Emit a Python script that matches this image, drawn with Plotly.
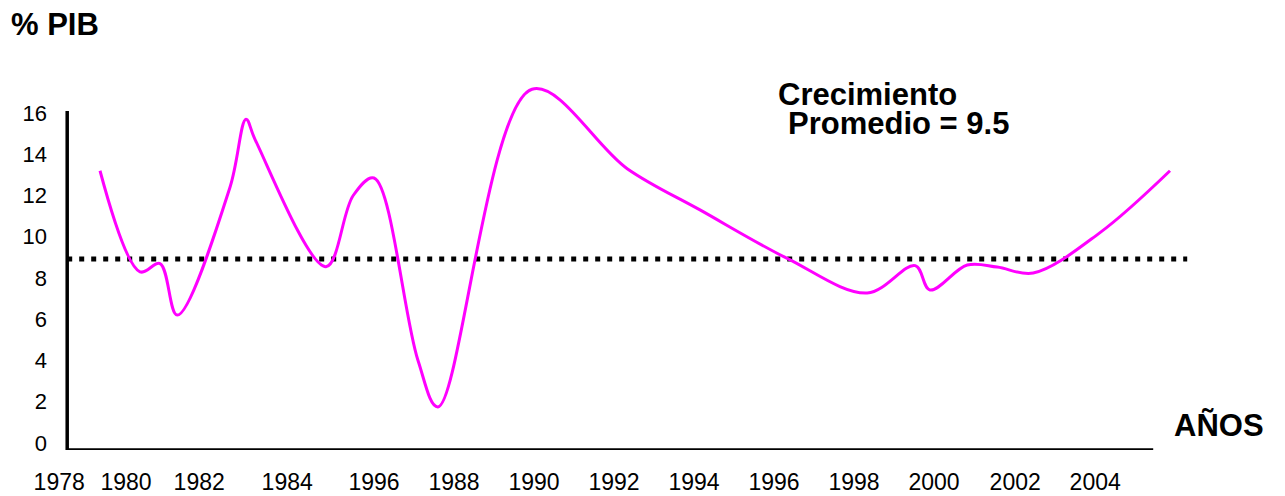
import plotly.graph_objects as go

# ---- data ----
years = [1979.35, 1980.35, 1980.85, 1981.28, 1982.6, 1983.0, 1983.23, 1985.0,
         1985.68, 1986.2, 1987.3, 1987.8, 1990.15, 1992.53, 1994.35, 1996.53,
         1998.53, 1999.73, 2000.1, 2001.03, 2001.78, 2002.68, 2004.35, 2006.1]
growth = [13.2, 8.3, 8.7, 6.2, 12.4, 15.7, 14.7, 8.55,
          12.0, 12.85, 4.0, 1.75, 17.15, 13.3, 11.3, 8.95,
          7.27, 8.6, 7.42, 8.63, 8.53, 8.24, 10.2, 13.2]
avg_value = 8.92
tick_labels = ["1978", "1980", "1982", "1984", "1996", "1988", "1990",
               "1992", "1994", "1996", "1998", "2000", "2002", "2004"]
tick_pos = [1978.33, 1980.0, 1981.83, 1984.03, 1986.2, 1988.2, 1990.2,
            1992.2, 1994.2, 1996.2, 1998.2, 2000.2, 2002.23, 2004.23]
y_ticks = [0, 2, 4, 6, 8, 10, 12, 14, 16]

# ---- layout geometry ----
W, H = 1285, 496
L, R, T, B = 20, 1200, 80, 450
X_RANGE = [1977.35, 2006.85]
Y_RANGE = [-0.34, 17.6]
FONT = "Liberation Sans, Arial, sans-serif"


def px_to_paper_x(px):
    return (px - L) / (R - L)


def px_to_paper_y(py):
    return (B - py) / (B - T)


fig = go.Figure()

# average dotted line
fig.add_trace(go.Scatter(
    x=[1978.53, 2006.53], y=[avg_value, avg_value], mode="lines",
    line=dict(color="black", width=5, dash="5px,7px"),
    hoverinfo="skip", showlegend=False))

# growth curve
fig.add_trace(go.Scatter(
    x=years, y=growth, mode="lines",
    line=dict(color="#FF00FF", width=3, shape="spline", smoothing=1.0),
    showlegend=False))

# axis lines (drawn as shapes)
fig.add_shape(type="line", xref="x", yref="y",
              x0=1978.53, x1=1978.53, y0=Y_RANGE[0], y1=16.1,
              line=dict(color="black", width=3.5))
fig.add_shape(type="line", xref="x", yref="y",
              x0=1978.53, x1=2005.68, y0=Y_RANGE[0], y1=Y_RANGE[0],
              line=dict(color="black", width=3.5))

TS = 31
annos = [
    dict(text="<b>% PIB</b>", x=px_to_paper_x(9), y=px_to_paper_y(25),
         xanchor="left", yanchor="middle", font=dict(size=TS)),
    dict(text="<b>AÑOS</b>", x=px_to_paper_x(1172), y=px_to_paper_y(425),
         xanchor="left", yanchor="middle", font=dict(size=TS)),
    dict(text="<b>Crecimiento</b>", x=px_to_paper_x(776), y=px_to_paper_y(94),
         xanchor="left", yanchor="middle", font=dict(size=TS), height=26),
    dict(text="<b>Promedio = 9.5</b>", x=px_to_paper_x(786), y=px_to_paper_y(123),
         xanchor="left", yanchor="middle", font=dict(size=TS), height=26),
]
for a in annos:
    a.update(xref="paper", yref="paper", showarrow=False)
    a["font"].update(family=FONT, color="black")
    fig.add_annotation(**a)

fig.update_layout(
    width=W, height=H,
    margin=dict(l=L, r=W - R, t=T, b=H - B, autoexpand=False),
    paper_bgcolor="white", plot_bgcolor="white",
    font=dict(family=FONT, color="black", size=22),
    xaxis=dict(range=X_RANGE, showgrid=False, zeroline=False, showline=False,
               tickmode="array", tickvals=tick_pos, ticktext=tick_labels,
               ticks="", ticklabelstandoff=16, tickfont=dict(size=23),
               fixedrange=True),
    yaxis=dict(range=Y_RANGE, showgrid=False, zeroline=False, showline=False,
               anchor="free", position=px_to_paper_x(67),
               tickmode="array", tickvals=y_ticks, ticks="",
               ticklabelstandoff=20, tickfont=dict(size=22), fixedrange=True),
    showlegend=False,
)

fig.write_html(
    "out.html",
    config={"displayModeBar": False},
    post_script="document.body.style.margin='0';document.body.style.overflow='hidden';",
)
